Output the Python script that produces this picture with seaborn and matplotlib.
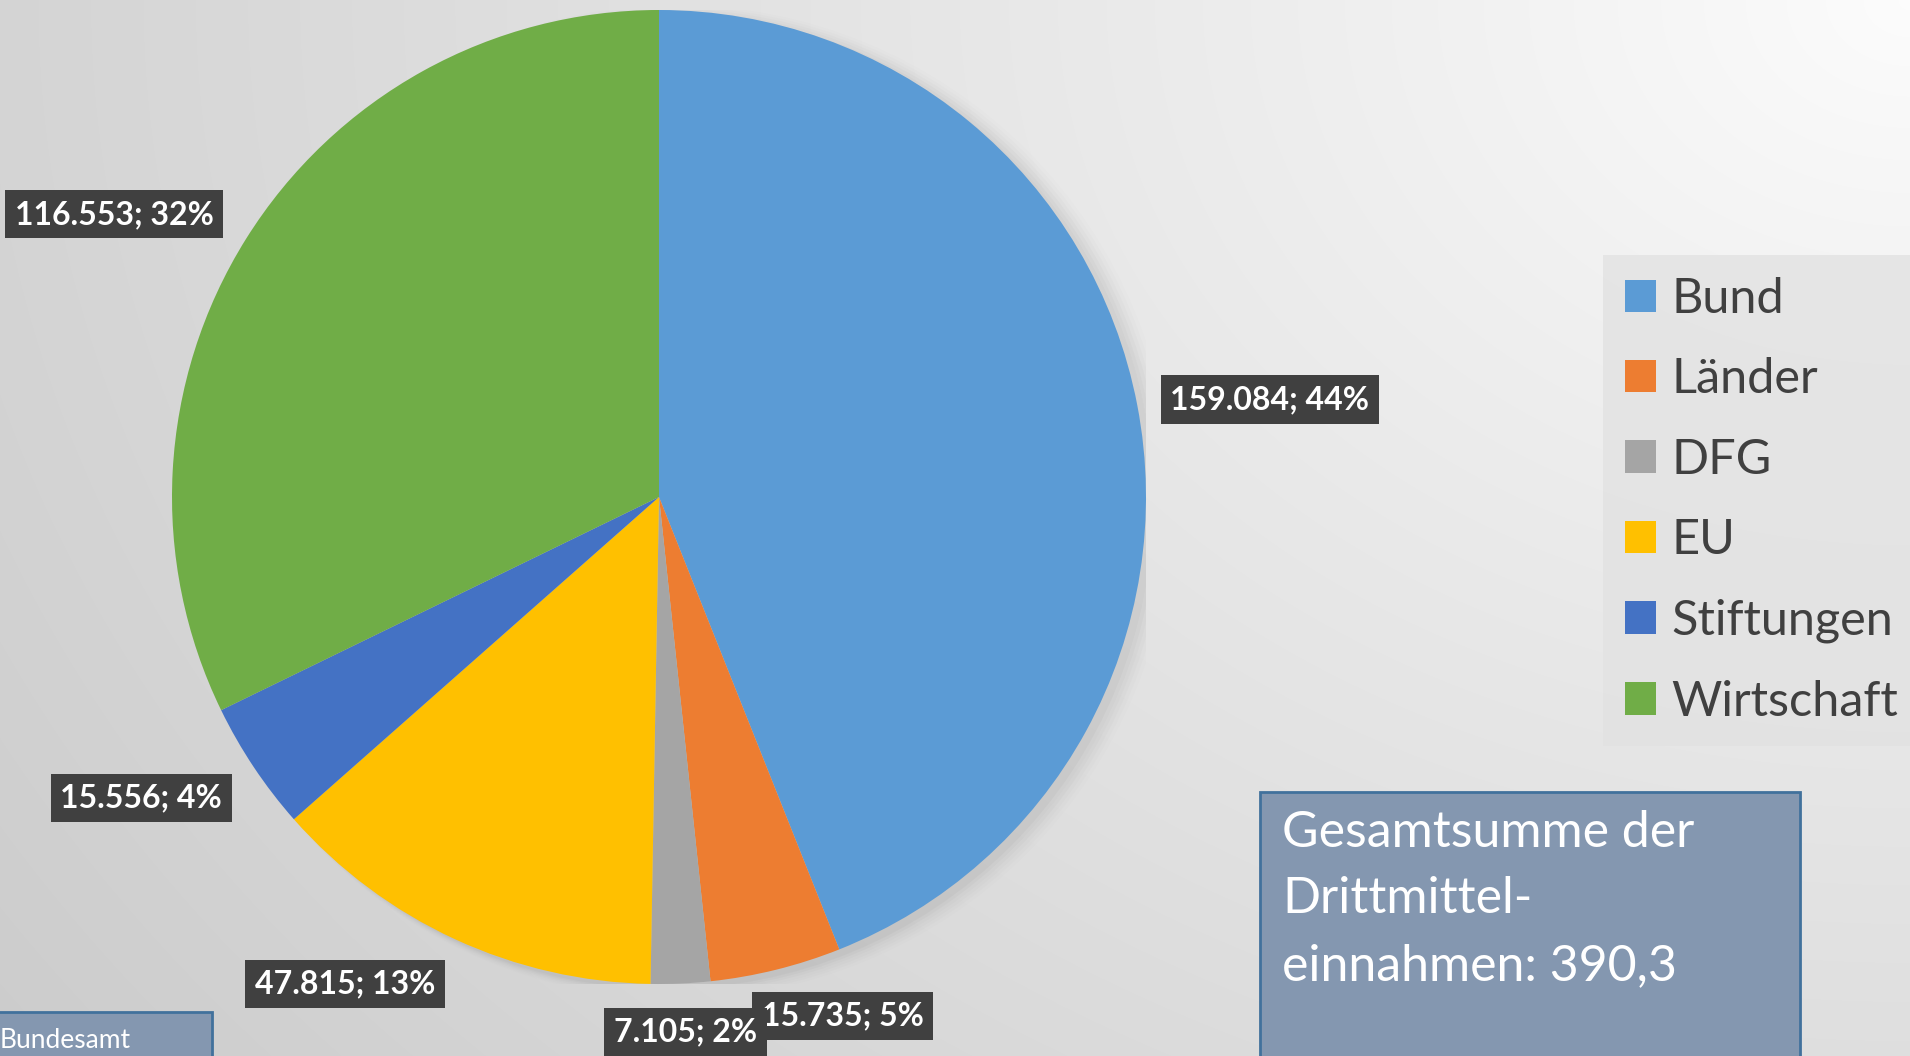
import numpy as np
import matplotlib
matplotlib.use("Agg")
import matplotlib.pyplot as plt
import matplotlib.patches as mpatches
import seaborn as sns

sns.set_theme(style="white")
plt.rcParams['font.family'] = ['Lato', 'DejaVu Sans']

# Daten
kategorien = ["Bund", "Länder", "DFG", "EU", "Stiftungen", "Wirtschaft"]
werte = [159.084, 15.735, 7.105, 47.815, 15.556, 116.553]
werte_text = ["159.084", "15.735", "7.105", "47.815", "15.556", "116.553"]
prozente = [44, 5, 2, 13, 4, 32]
farben = ["#5B9BD5", "#ED7D31", "#A5A5A5", "#FFC000", "#4472C4", "#70AD47"]
summe_text = "Gesamtsumme der\nDrittmittel-\neinnahmen: 390,3"
quelle_text = "Bundesamt"

# Lage der Beschriftungen (Winkelversatz in Grad, Abstand in Radien)
label_winkel_offset = [-1.8, 5.6, 0.3, -8.0, -3.5, 4.6]
label_abstand = [1.27, 1.13, 1.10, 1.19, 1.23, 1.26]

W, H = 1910, 1056
fig = plt.figure(figsize=(W / 100, H / 100), dpi=100)

# Hintergrund mit Verlauf
bg = fig.add_axes([0, 0, 1, 1])
yy, xx = np.mgrid[0:H, 0:W]
d = np.sqrt((xx - W) ** 2 + (yy * 1.3) ** 2) / np.sqrt(W ** 2 + (H * 1.3) ** 2)
grau = 0.99 - 0.19 * np.clip(d, 0, 1) ** 0.9
bg.imshow(np.dstack([grau, grau, grau]), aspect="auto", extent=[0, 1, 0, 1])
bg.set_axis_off()

# Kreisdiagramm
cx, cy, r = 659, 497, 487
ax = fig.add_axes([(cx - r) / W, (H - cy - r) / H, 2 * r / W, 2 * r / H])
ax.set_axis_off()

# weicher Schatten
for i, a in enumerate(np.linspace(0.06, 0.015, 6)):
    ax.add_patch(mpatches.Circle((0.015 + i * 0.004, -0.01), 1.0 + i * 0.004,
                                 color="#808080", alpha=a, lw=0, zorder=0))

wedges, _ = ax.pie(werte, colors=farben, startangle=90, counterclock=False,
                   radius=1, wedgeprops=dict(linewidth=0))
ax.set_xlim(-1, 1)
ax.set_ylim(-1, 1)
ax.set_aspect("equal")

for w, wt, p, off, dist in zip(wedges, werte_text, prozente, label_winkel_offset, label_abstand):
    theta = np.deg2rad((w.theta1 + w.theta2) / 2 + off)
    x, y = dist * np.cos(theta), dist * np.sin(theta)
    ax.text(x, y, f"{wt}; {p}%", ha="center", va="center",
            color="white", fontsize=23, fontweight="bold", clip_on=False,
            bbox=dict(boxstyle="square,pad=0.3", facecolor="#404040", edgecolor="none"),
            zorder=5)

# Legende
leg = fig.legend(wedges, kategorien, loc="upper left",
                 bbox_to_anchor=(1603 / W, 1 - 255 / H), fontsize=35,
                 frameon=True, fancybox=False, handlelength=0.65, handleheight=0.65,
                 handletextpad=0.3, labelspacing=0.75, borderpad=0.45,
                 borderaxespad=0)
leg.get_frame().set_facecolor("#E2E2E2")
leg.get_frame().set_edgecolor("none")
leg.get_frame().set_alpha(0.8)
for t in leg.get_texts():
    t.set_color("#404040")

# Summenkasten
bg.add_patch(mpatches.Rectangle((1260 / W, -0.01), 540 / W, (H - 792) / H + 0.01,
                                transform=bg.transAxes, facecolor="#8497B0",
                                edgecolor="#41719C", linewidth=2, zorder=3))
bg.text(1282 / W, 1 - 810 / H, summe_text, transform=bg.transAxes, ha="left", va="top",
        fontsize=36, color="white", linespacing=1.55, zorder=4)

# Quellenkasten
bg.add_patch(mpatches.Rectangle((-0.01, -0.01), 212 / W + 0.01, (H - 1012) / H + 0.01,
                                transform=bg.transAxes, facecolor="#8497B0",
                                edgecolor="#41719C", linewidth=2, zorder=3))
bg.text(0.0, 1 - 1040 / H, quelle_text, transform=bg.transAxes, ha="left", va="center",
        fontsize=19, color="white", zorder=4)

fig.savefig("out.png", dpi=100)
